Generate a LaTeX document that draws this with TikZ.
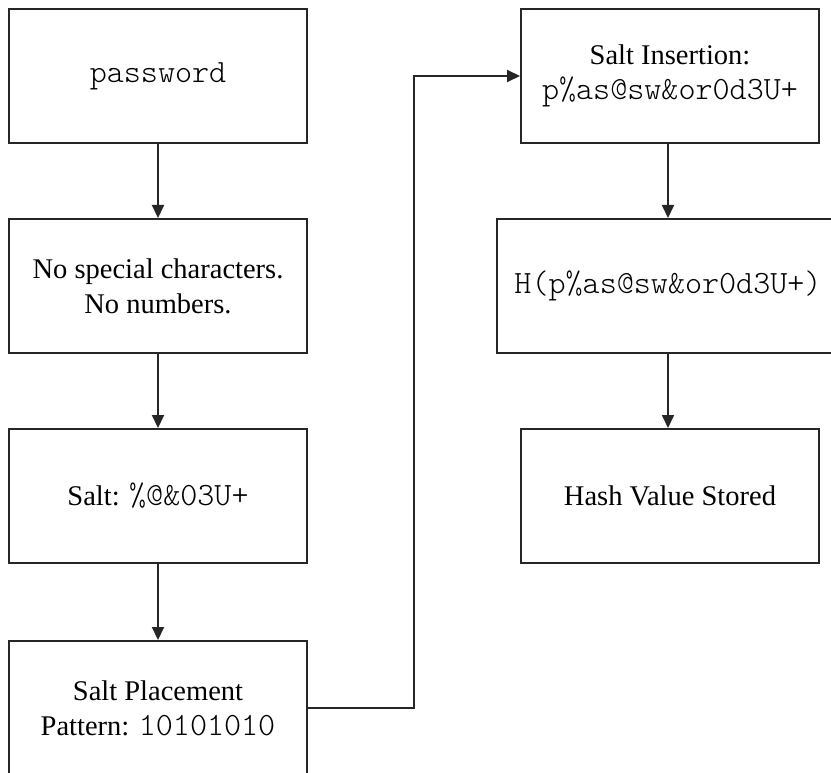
\documentclass[tikz,border=0pt]{standalone}
\usepackage{fontspec}
\setmainfont{Liberation Serif}
\setmonofont{Latin Modern Mono Light}[Scale=1.14]
\usetikzlibrary{arrows.meta}
\begin{document}
\begin{tikzpicture}[x=1pt,y=-1pt,
  box/.style={draw=black!85, line width=2pt, minimum width=298pt, minimum height=134pt,
    inner sep=0pt, align=center, font=\fontsize{28.5}{35}\selectfont},
  wide/.style={minimum width=342pt},
  arr/.style={draw=black!85, line width=2pt, -{Triangle[length=13pt,width=12pt]}}]
\clip (0,0) rectangle (831,773);
\fill[white] (0,0) rectangle (831,773);
\node[box] (b1) at (158,76) {\texttt{password}};
\node[box] (b2) at (158,286) {No special characters.\\No numbers.};
\node[box] (b3) at (158,496) {Salt: \texttt{\%@\&03U+}};
\node[box] (b4) at (158,708) {Salt Placement\\Pattern: \texttt{10101010}};
\node[box] (b5) at (670,76) {Salt Insertion:\\\texttt{p\%as@sw\&or0d3U+}};
\node[box,wide] (b6) at (668,286) {\texttt{H(p\%as@sw\&or0d3U+)}};
\node[box] (b7) at (670,496) {Hash Value Stored};
\draw[arr] (b1) -- (b2);
\draw[arr] (b2) -- (b3);
\draw[arr] (b3) -- (b4);
\draw[arr] (b5.south -| b6.north) -- (b6.north);
\draw[arr] (b6.south) -- (b6.south |- b7.north);
\draw[arr] (b4.east) -- ++(106,0) |- (b5.west);
\end{tikzpicture}
\end{document}
